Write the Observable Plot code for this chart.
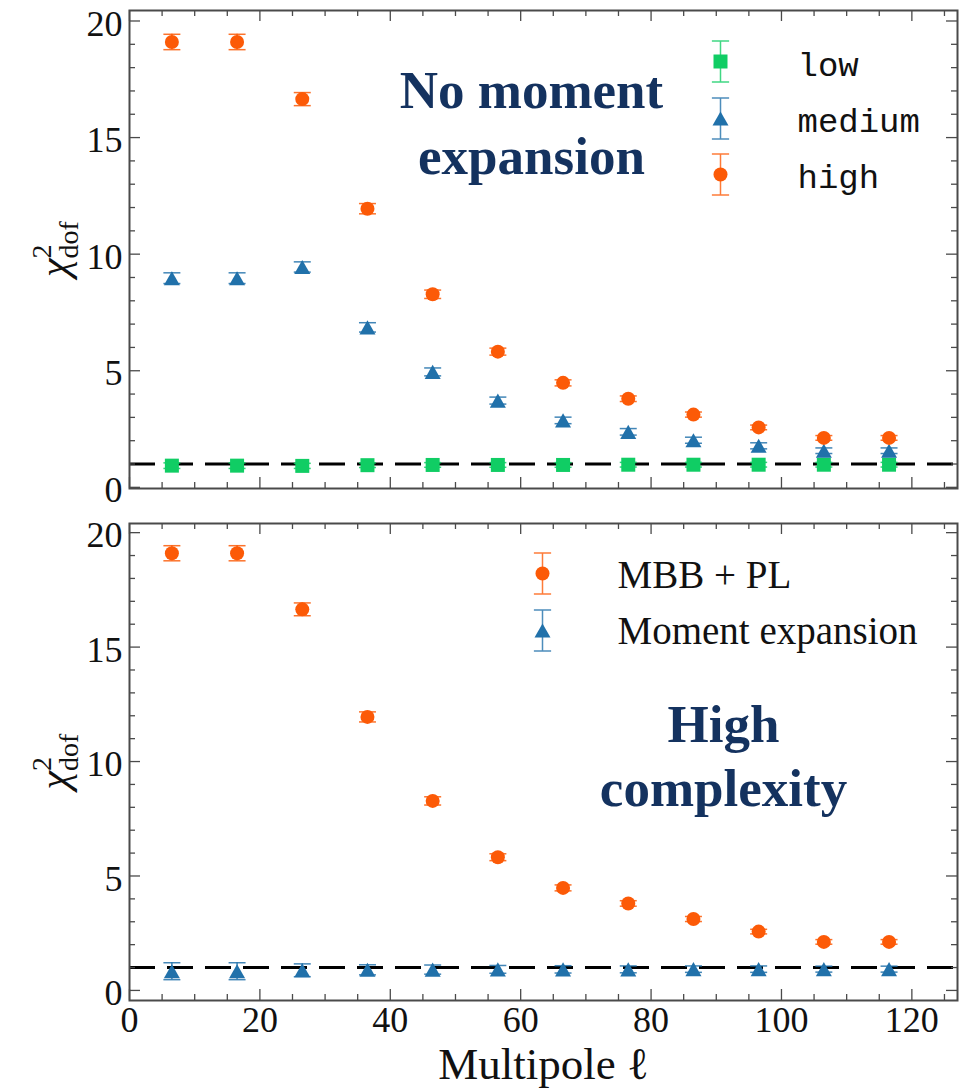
<!DOCTYPE html>
<html><head><meta charset="utf-8">
<script src="https://cdn.jsdelivr.net/npm/d3@7"></script>
<script src="https://cdn.jsdelivr.net/npm/@observablehq/plot@0.6"></script>
<style>body{margin:0;background:#fff} #chart svg{display:block;background:#fff}</style>
</head><body><div id="chart"></div><script>
// ---------- data ----------
const multipoles = [6.5, 16.5, 26.5, 36.5, 46.5, 56.5, 66.5, 76.5, 86.5, 96.5, 106.5, 116.5];

const highChi2   = [19.1, 19.1, 16.65, 11.95, 8.28, 5.82, 4.48, 3.8, 3.12, 2.57, 2.12, 2.12];
const highErr    = [0.33, 0.33, 0.28, 0.22, 0.18, 0.15, 0.13, 0.12, 0.11, 0.1, 0.1, 0.1];
const mediumChi2 = [8.97, 8.97, 9.45, 6.86, 4.95, 3.72, 2.87, 2.38, 2.02, 1.78, 1.57, 1.57];
const mediumErr  = [0.23, 0.23, 0.22, 0.2, 0.17, 0.15, 0.14, 0.14, 0.13, 0.13, 0.12, 0.12];
const lowChi2    = [0.93, 0.93, 0.92, 0.95, 0.96, 0.96, 0.96, 0.97, 0.97, 0.97, 0.97, 0.97];
const lowErr     = [0.12, 0.12, 0.11, 0.1, 0.1, 0.1, 0.1, 0.1, 0.1, 0.1, 0.1, 0.1];

const mbbChi2    = [19.1, 19.1, 16.65, 11.95, 8.28, 5.82, 4.48, 3.8, 3.12, 2.57, 2.12, 2.12];
const mbbErr     = [0.33, 0.33, 0.28, 0.22, 0.18, 0.15, 0.13, 0.12, 0.11, 0.1, 0.1, 0.1];
const momentChi2 = [0.84, 0.84, 0.88, 0.9, 0.91, 0.92, 0.92, 0.92, 0.93, 0.93, 0.93, 0.93];
const momentErr  = [0.37, 0.37, 0.28, 0.22, 0.2, 0.17, 0.16, 0.15, 0.14, 0.14, 0.13, 0.13];

const referenceLevel = [1];
const topSeriesNames = ["low", "medium", "high"];
const bottomSeriesNames = ["MBB + PL", "Moment expansion"];
const topAnnotation = ["No moment\nexpansion"];
const bottomAnnotation = ["High\ncomplexity"];
const xMajorTicks = [0, 20, 40, 60, 80, 100, 120];
const xMinorTicks = [5, 10, 15, 25, 30, 35, 45, 50, 55, 65, 70, 75, 85, 90, 95, 105, 110, 115, 125];
const yMajorTicks = [0, 5, 10, 15, 20];
const yMinorTicks = [1, 2, 3, 4, 6, 7, 8, 9, 11, 12, 13, 14, 16, 17, 18, 19];
const xLabel = "Multipole ℓ";

(function () {
// ---------- styles ----------
const C = {orange: "#fc5a07", blue: "#2171aa", green: "#10cd64", navy: "#14325f", axis: "#4a4a4a"};
const serif = "Liberation Serif, Times New Roman, serif";
const mono = "Liberation Mono, Courier New, monospace";

const rows = (ys, es) => multipoles.map((x, i) => ({x, y: ys[i], e: es[i]}));

// custom symbols
const capSymbol = {draw(ctx, size) { const r = Math.sqrt(size / Math.PI); ctx.moveTo(-r, 0); ctx.lineTo(r, 0); }};
const triSymbol = {draw(ctx, size) { const r = Math.sqrt(size / Math.PI); ctx.moveTo(0, -0.88 * r); ctx.lineTo(r, 0.88 * r); ctx.lineTo(-r, 0.88 * r); ctx.closePath(); }};
const sqSymbol = {draw(ctx, size) { const r = Math.sqrt(size / Math.PI); ctx.rect(-r, -r, 2 * r, 2 * r); }};
const legendBar = {draw(ctx, size) { const r = Math.sqrt(size / Math.PI), c = 0.42 * r;
  ctx.moveTo(0, -r); ctx.lineTo(0, r); ctx.moveTo(-c, -r); ctx.lineTo(c, -r); ctx.moveTo(-c, r); ctx.lineTo(c, r); }};

const markerDefs = {
  circle: {symbol: "circle", r: 7},
  triangle: {symbol: triSymbol, r: 8},
  square: {symbol: sqSymbol, r: 7}
};

function seriesMarks(data, color, marker) {
  const m = markerDefs[marker];
  return [
    Plot.ruleX(data, {x: "x", y1: d => d.y - d.e, y2: d => d.y + d.e, stroke: color, strokeWidth: 1.5, strokeOpacity: 0.85}),
    Plot.dot(data, {x: "x", y: d => d.y + d.e, symbol: capSymbol, r: 8.5, stroke: color, fill: "none", strokeWidth: 1.5, strokeOpacity: 0.85}),
    Plot.dot(data, {x: "x", y: d => d.y - d.e, symbol: capSymbol, r: 8.5, stroke: color, fill: "none", strokeWidth: 1.5, strokeOpacity: 0.85}),
    Plot.dot(data, {x: "x", y: "y", symbol: m.symbol, r: m.r, fill: color, stroke: "none"})
  ];
}

function legendMarks(names, colors, markers, {dx, dys, textDx, textDys, font, fontSize}) {
  const out = [];
  names.forEach((name, i) => {
    const m = markerDefs[markers[i]];
    out.push(Plot.dot([name], {frameAnchor: "top-left", dx, dy: dys[i], symbol: legendBar, r: 20.5, stroke: colors[i], fill: "none", strokeWidth: 1.5, strokeOpacity: 0.8}));
    out.push(Plot.dot([name], {frameAnchor: "top-left", dx, dy: dys[i], symbol: m.symbol, r: m.r, fill: colors[i], stroke: "none"}));
    out.push(Plot.text([name], {text: d => d, frameAnchor: "top-left", dx: textDx, dy: textDys[i], textAnchor: "start", lineAnchor: "bottom", fontFamily: font, fontSize, fill: "#111"}));
  });
  return out;
}

function tickMarks(H, W) {
  const s = {stroke: C.axis, strokeWidth: 1.3};
  return [
    Plot.tickX(xMajorTicks, {x: d => d, insetTop: H - 11, ...s}),
    Plot.tickX(xMajorTicks, {x: d => d, insetBottom: H - 11, ...s}),
    Plot.tickX(xMinorTicks, {x: d => d, insetTop: H - 6, ...s}),
    Plot.tickX(xMinorTicks, {x: d => d, insetBottom: H - 6, ...s}),
    Plot.tickY(yMajorTicks, {y: d => d, insetRight: W - 11, ...s}),
    Plot.tickY(yMajorTicks, {y: d => d, insetLeft: W - 11, ...s}),
    Plot.tickY(yMinorTicks, {y: d => d, insetRight: W - 6, ...s}),
    Plot.tickY(yMinorTicks, {y: d => d, insetLeft: W - 6, ...s})
  ];
}

function addYLabel(svg, cy) {
  const t = d3.select(svg).append("text")
    .attr("transform", `translate(68,${cy}) rotate(-90)`)
    .attr("text-anchor", "middle")
    .attr("font-family", serif)
    .attr("font-size", 42)
    .attr("fill", "#111");
  t.append("tspan").attr("font-style", "italic").text("χ");
  t.append("tspan").attr("font-size", 28).attr("dy", -17).text("2");
  t.append("tspan").attr("font-size", 28).attr("dx", -14).attr("dy", 27).text("dof");
}

const W = 960, ML = 129, MR = 3;
const FW = W - ML - MR;

// ---------- top panel ----------
const topH = 516, topMT = 10, topMB = 28;
const topFH = topH - topMT - topMB;
const topPlot = Plot.plot({
  width: W, height: topH,
  marginLeft: ML, marginRight: MR, marginTop: topMT, marginBottom: topMB,
  style: {fontFamily: serif, fontSize: "36px", color: "#111", background: "#fff"},
  x: {domain: [0, 127], axis: null},
  y: {domain: [-0.05, 20.45], axis: null},
  marks: [
    Plot.ruleY(referenceLevel, {y: d => d, stroke: "#000", strokeWidth: 3, strokeDasharray: "26,12"}),
    ...seriesMarks(rows(lowChi2, lowErr), C.green, "square"),
    ...seriesMarks(rows(mediumChi2, mediumErr), C.blue, "triangle"),
    ...seriesMarks(rows(highChi2, highErr), C.orange, "circle"),
    Plot.axisY(yMajorTicks, {anchor: "left", tickSize: 0, tickPadding: 7, dy: 3, fontSize: 36, fontFamily: serif, label: null}),
    ...tickMarks(topFH, FW),
    Plot.frame({stroke: C.axis, strokeWidth: 2}),
    Plot.text(topAnnotation, {text: d => d, frameAnchor: "top", dx: -12, dy: 163, lineAnchor: "bottom", lineHeight: 1.23, fontSize: 53, fontWeight: "bold", fontFamily: serif, fill: C.navy}),
    ...legendMarks(topSeriesNames, [C.green, C.blue, C.orange], ["square", "triangle", "circle"],
      {dx: 591, dys: [51, 108, 164], textDx: 668, textDys: [65, 121, 177], font: mono, fontSize: 34})
  ]
});
addYLabel(topPlot, topMT + topFH / 2);

// ---------- bottom panel ----------
const botH = 573, botMT = 7, botMB = 89;
const botFH = botH - botMT - botMB;
const bottomPlot = Plot.plot({
  width: W, height: botH,
  marginLeft: ML, marginRight: MR, marginTop: botMT, marginBottom: botMB,
  style: {fontFamily: serif, fontSize: "36px", color: "#111", background: "#fff"},
  x: {domain: [0, 127], axis: null},
  y: {domain: [-0.44, 20.4], axis: null},
  marks: [
    Plot.ruleY(referenceLevel, {y: d => d, stroke: "#000", strokeWidth: 3, strokeDasharray: "26,12"}),
    ...seriesMarks(rows(mbbChi2, mbbErr), C.orange, "circle"),
    ...seriesMarks(rows(momentChi2, momentErr), C.blue, "triangle"),
    Plot.axisY(yMajorTicks, {anchor: "left", tickSize: 0, tickPadding: 7, dy: 3, fontSize: 36, fontFamily: serif, label: null}),
    Plot.axisX(xMajorTicks, {anchor: "bottom", tickSize: 0, tickPadding: 6, fontSize: 36, fontFamily: serif, label: null}),
    ...tickMarks(botFH, FW),
    Plot.frame({stroke: C.axis, strokeWidth: 2}),
    Plot.text([xLabel], {text: d => d, frameAnchor: "bottom", dy: 78, lineAnchor: "bottom", fontSize: 45, fontFamily: serif, fill: "#111"}),
    Plot.text(bottomAnnotation, {text: d => d, frameAnchor: "top", dx: 180, dy: 282, lineAnchor: "bottom", lineHeight: 1.19, fontSize: 53, fontWeight: "bold", fontFamily: serif, fill: C.navy}),
    ...legendMarks(bottomSeriesNames, [C.orange, C.blue], ["circle", "triangle"],
      {dx: 413, dys: [50, 107], textDx: 488, textDys: [64, 120], font: serif, fontSize: 39})
  ]
});
addYLabel(bottomPlot, botMT + botFH / 2);

document.getElementById("chart").append(topPlot, bottomPlot);
})();
</script></body></html>
